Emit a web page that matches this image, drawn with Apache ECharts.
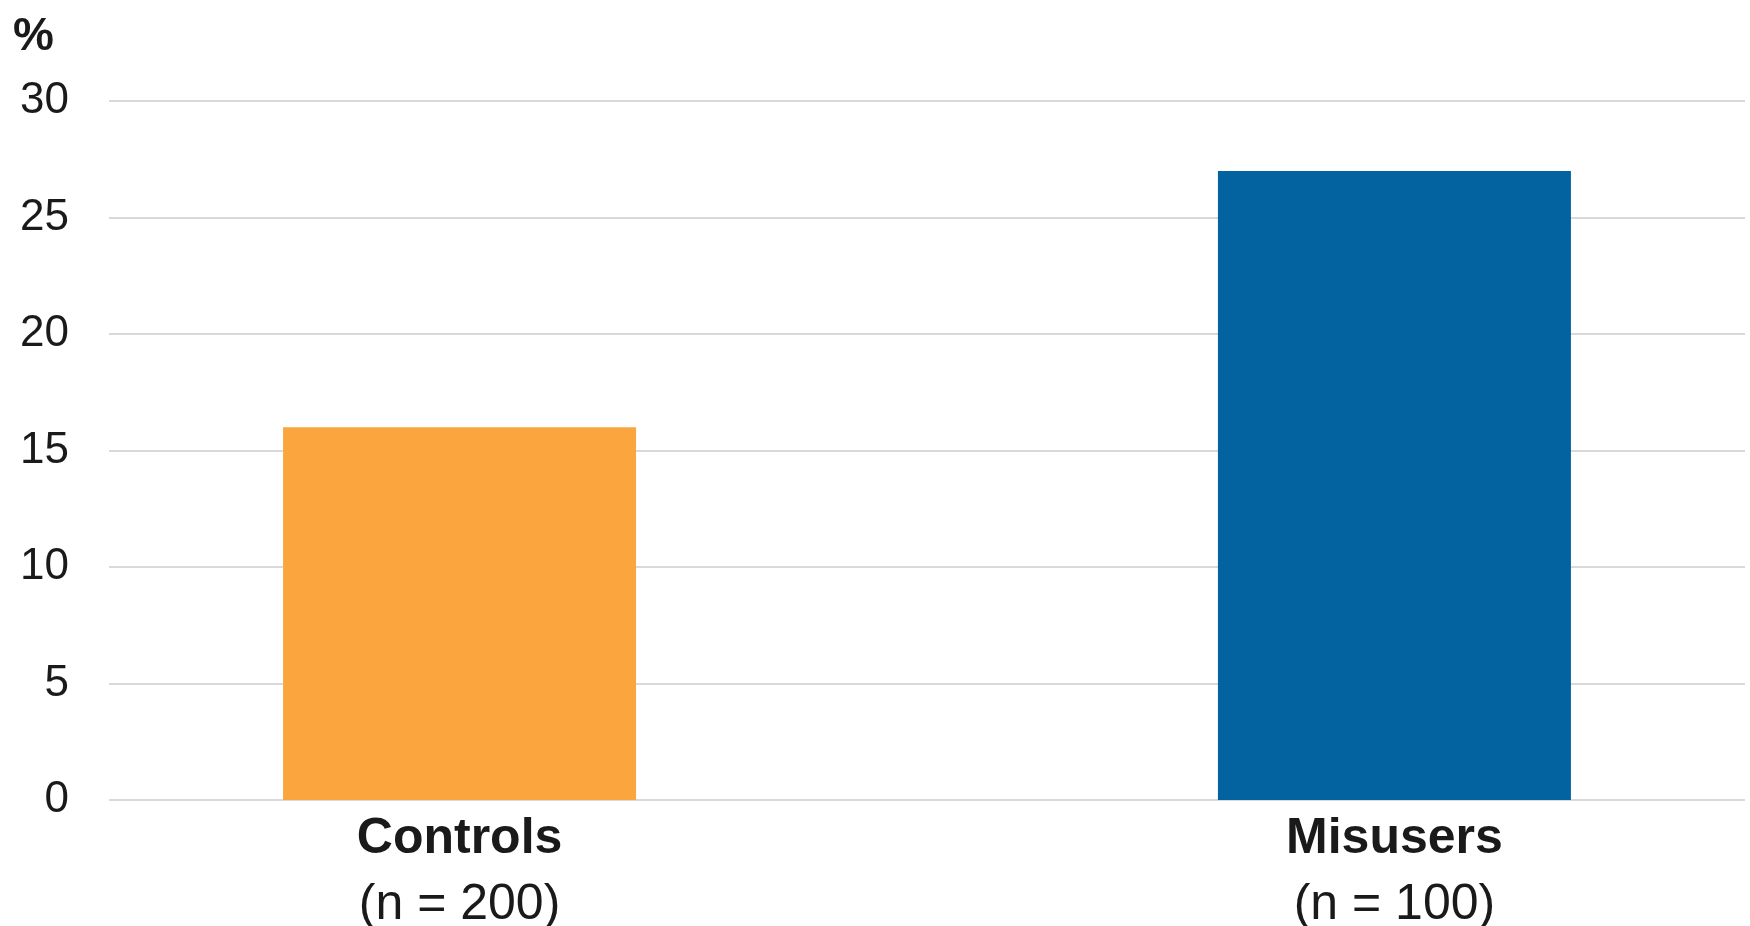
<!DOCTYPE html>
<html>
<head>
<meta charset="utf-8">
<script src="https://cdn.jsdelivr.net/npm/echarts@6/dist/echarts.min.js"></script>
<style>
html,body{margin:0;padding:0;background:#fff;}
#chart{width:1750px;height:926px;}
</style>
</head>
<body>
<div id="chart"></div>
<script>
// Categories (padded slots keep the original spacing of the two groups)
var categories = ['', 'Controls\n(n = 200)', '', '', '', 'Misusers\n(n = 100)', ''];
var percentValues = [null, 16, null, null, null, 27, null];
var barColors = ['#FBA53F', '#FBA53F', '#FBA53F', '#FBA53F', '#FBA53F', '#0263A0', '#0263A0'];
var yTicks = [0, 5, 10, 15, 20, 25, 30];
var unitLabel = '%';

var FONT = '"Liberation Sans", Arial, sans-serif';
var chart = echarts.init(document.getElementById('chart'), null, {renderer: 'canvas'});
var option = {
  backgroundColor: '#ffffff',
  animation: false,
  title: {
    text: unitLabel,
    left: 13,
    top: 14,
    padding: 0,
    textStyle: {fontFamily: FONT, fontSize: 46, fontWeight: 'bold', color: '#1a1a1a'}
  },
  grid: {left: 109, right: 5, top: 101, bottom: 126, containLabel: false, outerBoundsMode: 'none'},
  xAxis: {
    type: 'category',
    data: categories,
    axisLine: {show: false},
    axisTick: {show: false},
    axisLabel: {
      interval: 0,
      margin: 6,
      color: '#1a1a1a',
      fontFamily: FONT,
      fontSize: 50,
      lineHeight: 66,
      formatter: function (v) {
        if (!v) return '';
        var parts = v.split('\n');
        return '{b|' + parts[0] + '}\n{r|' + parts[1] + '}';
      },
      rich: {
        b: {fontFamily: FONT, fontSize: 50, fontWeight: 'bold', color: '#1a1a1a', lineHeight: 66},
        r: {fontFamily: FONT, fontSize: 50, color: '#1a1a1a', lineHeight: 66}
      }
    }
  },
  yAxis: {
    type: 'value',
    min: yTicks[0],
    max: yTicks[yTicks.length - 1],
    interval: 5,
    axisLine: {show: false},
    axisTick: {show: false},
    axisLabel: {
      margin: 40,
      color: '#1a1a1a',
      fontFamily: FONT,
      fontSize: 44
    },
    splitLine: {show: true, lineStyle: {color: '#d9d9d9', width: 2}}
  },
  series: [{
    type: 'bar',
    data: percentValues.map(function (v, i) {
      return {value: v, itemStyle: {color: barColors[i]}};
    }),
    barWidth: 353,
    barGap: '0%'
  }]
};
chart.setOption(option);
</script>
</body>
</html>
